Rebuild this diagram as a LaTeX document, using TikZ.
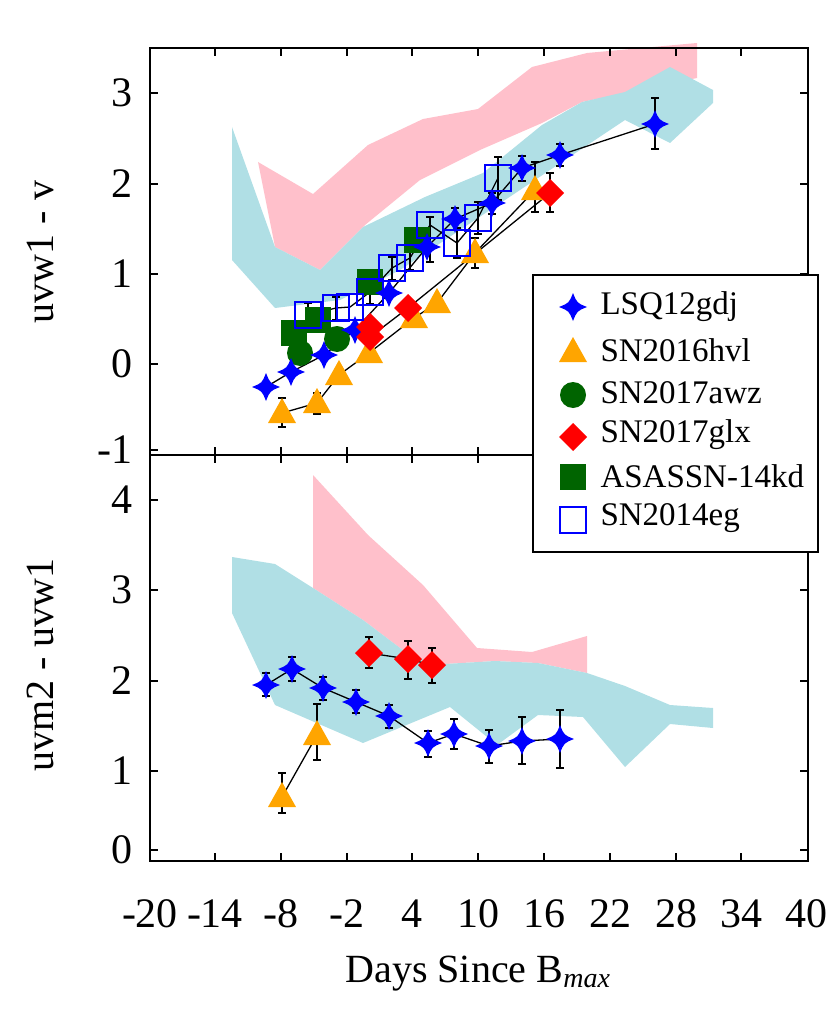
\documentclass[tikz,border=0pt]{standalone}
\usepackage{fontspec}
\setmainfont{Liberation Serif}
\definecolor{cyanb}{HTML}{B0DFE5}
\definecolor{pinkb}{HTML}{FFC0CB}
\definecolor{org}{HTML}{FFA500}
\definecolor{dgreen}{HTML}{006400}
\newcommand\Star[2]{\fill[blue,shift={(#1,#2)}] (14,0) .. controls (4,4) .. (0,14) .. controls (-4,4) .. (-14,0) .. controls (-4,-4) .. (0,-14) .. controls (4,-4) .. cycle;}
\newcommand\Tri[2]{\fill[org,shift={(#1,#2)}] (-14,10) -- (14,10) -- (0,-15) -- cycle;}
\newcommand\Dia[2]{\fill[red,shift={(#1,#2)}] (14,0) -- (0,14) -- (-14,0) -- (0,-14) -- cycle;}
\newcommand\Circ[2]{\fill[dgreen] (#1,#2) circle (13);}
\newcommand\Sq[2]{\fill[dgreen] (#1-13,#2-13) rectangle (#1+13,#2+13);}
\newcommand\OSq[2]{\draw[blue,line width=1.6] (#1-13,#2-13) rectangle (#1+13,#2+13);}
\newcommand\Err[3]{\draw[line width=1.3] (#1,#2) -- (#1,#3) (#1-4,#2) -- (#1+4,#2) (#1-4,#3) -- (#1+4,#3);}
\begin{document}
\begin{tikzpicture}[x=1pt,y=-1pt,
  conn/.style={line width=1.3},
  ticklab/.style={font=\fontsize{42}{42}\selectfont},
  axlab/.style={font=\fontsize{40}{40}\selectfont},
  leg/.style={font=\fontsize{33}{33}\selectfont,anchor=west}]
\useasboundingbox (0,0) rectangle (830,1011);
% bands top
\fill[pinkb] (258,162)--(313,194)--(368,145)--(423,119)--(478,109)--(532,67)--(587,53)--(697,43)--(697,78)--(625,93)--(582,102)--(542,123)--(480,150)--(420,180)--(365,225)--(320,270)--(275,247)--cycle;
\fill[cyanb] (232,127)--(275,247)--(320,270)--(363,227)--(425,197)--(483,173)--(542,125)--(582,102)--(625,92)--(670,67)--(713,90)--(713,103)--(670,143)--(625,120)--(580,150)--(520,190)--(460,230)--(400,270)--(340,300)--(275,308)--(232,260)--cycle;
% bands bottom
\fill[pinkb] (313,475)--(368,535)--(423,585)--(477,648)--(532,652)--(587,636)--(587,673)--(538,663)--(495,661)--(445,664)--(412,657)--(363,620)--(313,588)--cycle;
\fill[cyanb] (232,557)--(275,564)--(313,588)--(363,620)--(412,657)--(445,664)--(495,661)--(538,663)--(587,673)--(625,686)--(670,705)--(713,708)--(713,728)--(670,724)--(625,767)--(583,717)--(538,715)--(497,745)--(450,707)--(363,743)--(275,705)--(232,613)--cycle;
% frame
\draw[line width=1.5] (150,48) rectangle (808,861);
\draw[line width=1.5] (150,455) -- (808,455);
\foreach \x in {215,281,347,412,478,544,610,676,741} {
  \draw[line width=1.3] (\x,48) -- (\x,56) (\x,455) -- (\x,447) (\x,455) -- (\x,463) (\x,861) -- (\x,853);}
\foreach \y/\l in {93/3,184/2,274/1,364/0,450/-1} {
  \draw[line width=1.3] (150,\y) -- (158,\y) (808,\y) -- (800,\y);
  \node[ticklab,anchor=east] at (136,\y) {\l};}
\foreach \y/\l in {500/4,590/3,681/2,771/1,850/0} {
  \draw[line width=1.3] (150,\y) -- (158,\y) (808,\y) -- (800,\y);
  \node[ticklab,anchor=east] at (136,\y) {\l};}
\foreach \x/\l in {150/-20,215/-14,281/-8,347/-2,412/4,478/10,544/16,610/22,676/28,741/34,806/40}
  \node[ticklab] at (\x,914) {\l};
\node[axlab] at (478,974) {Days Since B$_{\mathit{max}}$};
\node[axlab,rotate=90] at (40,252) {uvw1 - v};
\node[axlab,rotate=90] at (40,665) {uvm2 - uvw1};
% top panel connectors
\draw[conn] plot coordinates {(266,387) (291,372) (324,355) (355,330) (389,293) (427,247) (455,219) (492,203) (522,168) (560,155) (655,124)};
\draw[conn] plot coordinates {(282,413) (317,403) (339,375) (369,353) (414,318) (437,303) (475,253) (535,190)};
\draw[conn] plot coordinates {(370,327) (370,337) (408,308) (550,193)};
\draw[conn] plot coordinates {(308,315) (336,308) (350,307) (370,292) (392,268) (410,258) (430,225) (457,243) (478,218) (498,178)};
% top error bars
\Err{655}{98}{149}\Err{560}{144}{166}\Err{522}{156}{181}\Err{492}{193}{214}\Err{455}{208}{230}
\Err{535}{162}{212}\Err{550}{173}{212}\Err{475}{238}{268}\Err{282}{398}{427}\Err{317}{393}{414}
\Err{308}{303}{327}\Err{336}{297}{320}\Err{370}{280}{304}\Err{392}{257}{280}\Err{410}{246}{270}\Err{430}{217}{262}\Err{457}{228}{258}\Err{478}{202}{234}\Err{498}{157}{200}
% top markers
\Sq{294}{333}\Sq{318}{320}\Sq{370}{282}\Sq{417}{240}
\Circ{300}{353}\Circ{337}{339}
\foreach \x/\y in {266/387,291/372,324/355,355/330,389/293,427/247,455/219,492/203,522/168,560/155,655/124} {\Star{\x}{\y}}
\foreach \x/\y in {282/413,317/403,339/375,369/353,414/318,437/303,475/253,535/190} {\Tri{\x}{\y}}
\Dia{370}{327}\Dia{370}{337}\Dia{408}{308}\Dia{550}{193}
\foreach \x/\y in {308/315,336/308,350/307,370/292,392/268,410/258,430/225,457/243,478/218,498/178} {\OSq{\x}{\y}}
% bottom panel
\draw[conn] plot coordinates {(266,685) (292,669) (323,688) (356,702) (389,716) (428,743) (454,734) (489,746) (522,741) (560,739)};
\draw[conn] (282,797) -- (317,735);
\draw[conn] plot coordinates {(369,653) (408,659) (432,665)};
\Err{266}{673}{696}\Err{292}{657}{681}\Err{323}{677}{700}\Err{356}{690}{713}\Err{389}{705}{728}
\Err{428}{731}{757}\Err{454}{719}{749}\Err{489}{730}{763}\Err{522}{717}{764}\Err{560}{710}{768}
\Err{317}{704}{760}\Err{282}{773}{813}
\Err{369}{637}{668}\Err{408}{641}{679}\Err{432}{648}{683}
\foreach \x/\y in {266/685,292/669,323/688,356/702,389/716,428/743,454/734,489/746,522/741,560/739} {\Star{\x}{\y}}
\Tri{282}{797}\Tri{317}{735}
\Dia{369}{653}\Dia{408}{659}\Dia{432}{665}
% legend
\draw[fill=white,line width=1.5] (533,275) rectangle (818,552);
\Star{573}{307}\node[leg] at (597,307) {LSQ12gdj};
\Tri{573}{352}\node[leg] at (597,350) {SN2016hvl};
\Circ{573}{395}\node[leg] at (597,393) {SN2017awz};
\Dia{573}{437}\node[leg] at (597,435) {SN2017glx};
\Sq{573}{477}\node[leg] at (597,476) {ASASSN-14kd};
\OSq{573}{520}\node[leg] at (597,518) {SN2014eg};
\end{tikzpicture}
\end{document}
